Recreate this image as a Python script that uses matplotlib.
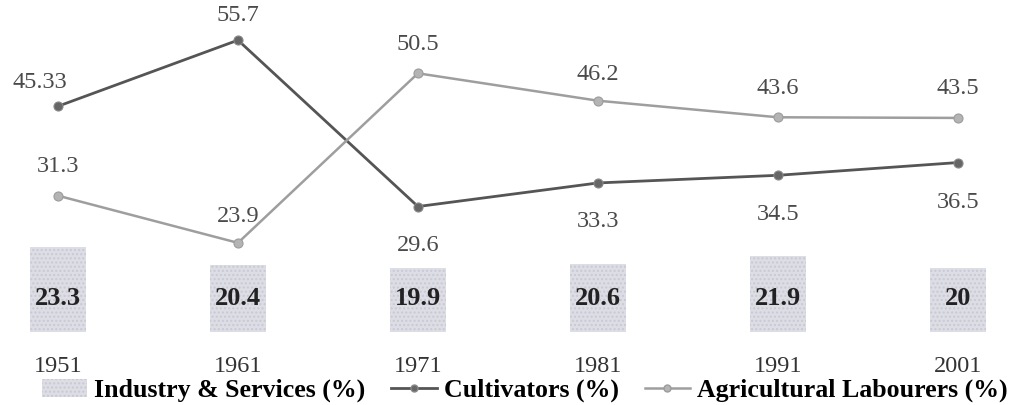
import matplotlib
matplotlib.use("Agg")
import matplotlib.pyplot as plt
from matplotlib.patches import Patch
from matplotlib.lines import Line2D
import numpy as np

years = ["1951", "1961", "1971", "1981", "1991", "2001"]
industry_services = [23.3, 20.4, 19.9, 20.6, 21.9, 20]
cultivators = [45.33, 55.7, 29.6, 33.3, 34.5, 36.5]
agri_labourers = [31.3, 23.9, 50.5, 46.2, 43.6, 43.5]

# label placement for the line values: +1 above the marker, -1 below
cult_side = [1, 1, -1, -1, -1, -1]
agri_side = [1, 1, 1, 1, 1, 1]

plt.rcParams["font.family"] = ["Liberation Serif", "DejaVu Serif"]

fig = plt.figure(figsize=(10.17, 4.05), dpi=100)
ax = fig.add_axes([0, 0.18, 1, 0.82])

x = np.arange(len(years))
bar_color = "#dddde6"
cult_color = "#555555"
agri_color = "#9e9e9e"

ax.bar(x, industry_services, width=0.31, color=bar_color,
       edgecolor="#c9c9d3", linewidth=0, hatch="....", zorder=1)

ax.plot(x, cultivators, color=cult_color, lw=2.0, marker="o", ms=6.5,
        mfc="#666666", mec="#888888", mew=0.8, zorder=3)
ax.plot(x, agri_labourers, color=agri_color, lw=1.8, marker="o", ms=6.5,
        mfc="#b4b4b4", mec="#9c9c9c", mew=0.8, zorder=3)

ax.set_xlim(-0.322, 5.328)
ax.set_ylim(9.9, 62.0)

# bar values sit at a common height inside the bars
for xi, v in zip(x, industry_services):
    ax.text(xi, 15.1, f"{v:g}", ha="center", va="center", fontsize=19,
            fontweight="bold", color="#222222", zorder=4)

def label_line(values, sides, dx_px=None, dy_px=None):
    for i, (v, s) in enumerate(zip(values, sides)):
        dy = (20 if s > 0 else -28) if dy_px is None else dy_px[i]
        dx = 0 if dx_px is None else dx_px[i]
        ax.annotate(f"{v:g}", (x[i], v), xytext=(dx, dy),
                    textcoords="offset points", ha="center", va="center",
                    fontsize=17.5, color="#4a4a4a", zorder=4)

label_line(cultivators, cult_side, dx_px=[-13, 0, 0, 0, 0, 0],
           dy_px=[17, 18, -28, -28, -28, -29])
label_line(agri_labourers, agri_side, dy_px=[21, 19, 21, 19, 21, 21])

ax.set_xticks(x)
ax.set_xticklabels(years, fontsize=17.5, color="#333333")
ax.tick_params(axis="x", length=0, pad=17)
ax.set_yticks([])
for sp in ax.spines.values():
    sp.set_visible(False)

handles = [
    Patch(facecolor=bar_color, edgecolor="#c9c9d3", hatch="....", linewidth=0),
    Line2D([0], [0], color=cult_color, lw=2.0, marker="o", ms=5,
           mfc="#666666", mec="#888888"),
    Line2D([0], [0], color=agri_color, lw=1.8, marker="o", ms=5,
           mfc="#b4b4b4", mec="#9c9c9c"),
]
labels = ["Industry & Services (%)", "Cultivators (%)",
          "Agricultural Labourers (%)"]
fig.legend(handles, labels, loc="center", bbox_to_anchor=(0.516, 0.036),
           ncol=3, frameon=False, handlelength=1.75, handletextpad=0.27,
           columnspacing=1.0, borderpad=0.0,
           prop={"weight": "bold", "size": 18.6})

fig.savefig("out.png", dpi=100)
